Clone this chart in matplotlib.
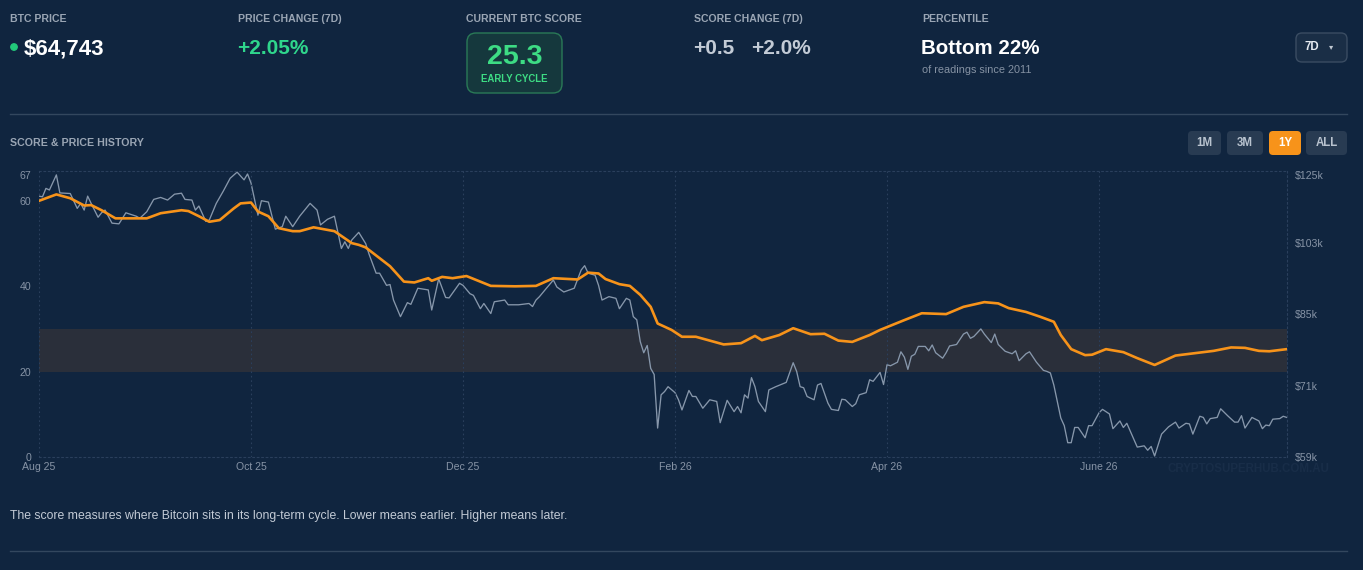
import matplotlib
matplotlib.use('Agg')
import matplotlib.pyplot as plt
from matplotlib.patches import FancyBboxPatch, Circle, Rectangle
from matplotlib.lines import Line2D
from matplotlib import transforms

plt.rcParams['font.family'] = ['Liberation Sans', 'DejaVu Sans']

# ---------------- data ----------------
x_tick_days = [0, 61, 122, 183, 244, 305]
x_tick_labels = ['Aug 25', 'Oct 25', 'Dec 25', 'Feb 26', 'Apr 26', 'June 26']
last_day = 359

score_ticks = [0, 20, 40, 60, 67]
score_tick_labels = ['0', '20', '40', '60', '67']
score_band = (20, 30)

price_ticks_k = [59.0, 71.2, 85.9, 103.6, 125.0]
price_tick_labels = ['$59k', '$71k', '$85k', '$103k', '$125k']

score_day = [0, 5, 9, 13, 15, 18, 22, 31, 35, 41,
             43, 46, 49, 52, 56, 58, 61, 63, 66, 69,
             73, 75, 79, 85, 90, 92, 94, 101, 105, 108,
             112, 113, 116, 119, 123, 130, 137, 143, 148, 155,
             158, 161, 163, 167, 170, 173, 176, 178, 182, 185,
             189, 193, 197, 202, 206, 208, 213, 217, 222, 226,
             230, 234, 239, 242, 249, 254, 261, 266, 272, 276,
             279, 284, 288, 292, 294, 297, 301, 303, 307, 312,
             316, 321, 327, 332, 338, 343, 347, 351, 354, 359]
score_val = [60.0, 61.5, 60.6, 58.9, 59.0, 57.8, 55.9, 55.9, 57.1, 57.8,
             57.6, 56.4, 55.1, 55.5, 58.2, 59.4, 59.6, 57.5, 56.4, 53.6,
             52.9, 52.9, 53.8, 52.9, 50.1, 49.7, 49.1, 44.7, 41.1, 40.9,
             41.9, 41.3, 42.2, 41.9, 42.4, 40.1, 40.0, 40.1, 41.9, 41.6,
             43.2, 43.0, 41.7, 40.5, 40.1, 38.0, 35.2, 31.3, 29.8, 28.2,
             28.2, 27.3, 26.4, 26.7, 28.4, 27.4, 28.6, 30.2, 28.8, 28.9,
             27.3, 27.0, 28.6, 29.8, 32.1, 33.7, 33.5, 35.2, 36.3, 36.0,
             34.9, 34.0, 32.9, 31.7, 28.6, 25.3, 23.9, 24.0, 25.3, 24.6,
             23.2, 21.6, 23.8, 24.3, 24.9, 25.7, 25.6, 24.9, 24.8, 25.3]

price_day = [0, 1, 2, 3, 5, 6, 9, 11, 12, 13,
             14, 15, 17, 18, 19, 21, 23, 25, 28, 29,
             31, 33, 35, 37, 39, 41, 42, 44, 45, 46,
             48, 49, 51, 53, 55, 57, 59, 60, 61, 63,
             64, 66, 68, 70, 71, 73, 75, 78, 80, 81,
             83, 85, 87, 88, 89, 90, 92, 94, 95, 97,
             98, 100, 101, 102, 104, 106, 107, 109, 112, 113,
             115, 117, 118, 121, 122, 124, 125, 127, 128, 130,
             131, 134, 135, 138, 141, 142, 143, 144, 146, 148,
             149, 151, 154, 156, 157, 158, 160, 161, 162, 164,
             166, 167, 169, 170, 171, 172, 173, 174, 175, 176,
             177, 178, 179, 180, 181, 183, 184, 185, 187, 188,
             189, 191, 193, 195, 196, 198, 199, 200, 201, 202,
             203, 204, 205, 206, 207, 209, 210, 212, 215, 217,
             218, 219, 220, 221, 223, 224, 225, 227, 228, 230,
             231, 232, 234, 235, 236, 238, 239, 240, 242, 243,
             244, 245, 247, 248, 249, 250, 251, 252, 253, 255,
             256, 257, 258, 260, 261, 262, 264, 266, 267, 268,
             269, 271, 272, 274, 275, 276, 278, 280, 281, 282,
             284, 285, 287, 289, 290, 291, 292, 294, 295, 296,
             297, 298, 299, 301, 302, 303, 305, 306, 308, 309,
             311, 312, 313, 316, 318, 319, 320, 321, 323, 325,
             327, 328, 330, 331, 332, 334, 335, 336, 337, 339,
             340, 342, 344, 345, 346, 347, 349, 351, 352, 353,
             354, 355, 357, 358, 359]
price_k = [117.0, 116.8, 119.4, 118.9, 123.7, 118.0, 117.8, 113.3, 114.8, 112.8,
           117.0, 114.8, 110.7, 112.0, 112.8, 109.0, 108.8, 112.0, 111.0, 110.4,
           112.3, 116.0, 116.6, 115.8, 117.6, 117.9, 116.0, 115.8, 112.8, 114.0,
           109.5, 109.9, 114.8, 118.5, 122.6, 124.6, 122.1, 124.0, 121.1, 111.3,
           115.6, 115.2, 107.3, 108.0, 111.0, 108.0, 111.0, 114.8, 112.8, 108.5,
           110.1, 111.0, 102.0, 103.8, 102.0, 104.3, 106.4, 103.3, 100.4, 95.6,
           95.6, 92.6, 92.8, 89.1, 85.3, 88.5, 88.1, 91.9, 91.5, 86.8,
           94.2, 89.7, 89.6, 93.1, 92.6, 90.6, 90.2, 87.1, 88.3, 86.0,
           88.7, 89.1, 88.0, 88.0, 88.3, 87.6, 89.1, 89.9, 91.9, 93.9,
           92.2, 91.0, 91.9, 96.4, 97.5, 95.6, 95.1, 92.6, 89.1, 89.9,
           89.5, 87.1, 89.5, 89.1, 85.3, 84.6, 79.9, 77.6, 79.1, 74.5,
           73.3, 63.7, 69.5, 70.1, 71.0, 69.9, 68.6, 66.8, 70.3, 69.2,
           69.2, 67.1, 68.6, 68.3, 64.6, 68.5, 67.5, 66.5, 67.4, 66.3,
           69.5, 68.9, 72.7, 71.0, 68.3, 66.5, 70.4, 71.0, 71.8, 75.6,
           73.9, 71.0, 70.8, 69.2, 68.6, 71.3, 71.6, 68.0, 66.9, 66.7,
           68.7, 68.6, 67.4, 67.9, 69.5, 69.9, 72.3, 72.0, 73.7, 71.4,
           75.2, 75.0, 75.7, 77.8, 76.7, 74.3, 76.9, 77.3, 78.9, 78.9,
           78.0, 79.2, 77.6, 76.5, 77.6, 79.0, 79.3, 81.5, 81.9, 80.6,
           81.0, 82.6, 81.5, 79.7, 81.5, 79.3, 77.9, 77.4, 78.0, 76.0,
           77.4, 77.8, 75.7, 74.1, 73.9, 73.6, 71.3, 65.4, 64.1, 61.3,
           61.3, 63.8, 63.8, 62.1, 64.1, 64.1, 66.3, 66.9, 66.1, 63.6,
           64.9, 63.8, 64.5, 60.6, 60.8, 60.1, 60.7, 59.2, 62.7, 63.9,
           64.7, 63.7, 64.5, 64.4, 62.7, 65.7, 65.5, 64.4, 65.3, 65.5,
           67.0, 65.8, 64.7, 64.7, 65.8, 63.7, 65.5, 64.9, 63.6, 64.2,
           64.1, 65.2, 65.3, 65.7, 65.5]

# ---------------- styling ----------------
W, H = 1363, 570
BG = '#10253f'
LABEL = '#9aa5b4'
ORANGE = '#f7931a'
GRAYLINE = '#8797ab'
GREEN = '#2fd68c'

fig = plt.figure(figsize=(W / 100, H / 100), dpi=100, facecolor=BG)
ident = transforms.IdentityTransform()


def fx(x):
    return x / W


def fy(y):
    return 1 - y / H


def txt(x, y, s, size, color, weight='normal', ha='left', va='center', **kw):
    fig.text(fx(x), fy(y), s, fontsize=size, color=color, fontweight=weight,
             ha=ha, va=va, **kw)


def rbox(x0, y0, x1, y1, fc, ec, r=6, lw=1.0):
    p = FancyBboxPatch((x0, H - y1), x1 - x0, y1 - y0,
                       boxstyle=f"round,pad=0,rounding_size={r}",
                       fc=fc, ec=ec, lw=lw, transform=ident)
    fig.add_artist(p)


def hline(y, x0, x1, color, lw=1.0):
    fig.add_artist(Line2D([fx(x0), fx(x1)], [fy(y), fy(y)], color=color, lw=lw,
                          transform=fig.transFigure))


# ---------------- header ----------------
hdr_y = 19.5
hs = 7.6
txt(10, hdr_y, 'BTC PRICE', hs, LABEL, 'bold')
txt(238, hdr_y, 'PRICE CHANGE (7D)', hs, LABEL, 'bold')
txt(466, hdr_y, 'CURRENT BTC SCORE', hs, LABEL, 'bold')
txt(694, hdr_y, 'SCORE CHANGE (7D)', hs, LABEL, 'bold')
txt(922, hdr_y, 'PERCENTILE', hs, LABEL, 'bold')

val_y = 47
fig.add_artist(Circle((14, H - 47), 3.2, color='#22c97a', transform=ident))
txt(24, val_y, '$64,743', 16, 'white', 'bold', va='center_baseline')
txt(237, val_y, '+2.05%', 15, GREEN, 'bold', va='center_baseline')

rbox(467, 33, 562, 93, '#15383d', '#2a7a57', r=9, lw=1.0)
txt(514.5, 54.5, '25.3', 20.5, '#3ddc84', 'bold', ha='center', va='center_baseline')
txt(514.5, 78, 'EARLY CYCLE', 6.9, '#3ddc84', 'bold', ha='center', va='center_baseline')

txt(693, val_y, '+0.5', 15, '#c3cbd6', 'bold', va='center_baseline')
txt(751, val_y, '+2.0%', 15, '#c3cbd6', 'bold', va='center_baseline')

txt(921, val_y, 'Bottom 22%', 14.8, 'white', 'bold', va='center_baseline')
txt(922, 70, 'of readings since 2011', 7.8, '#8592a3')

rbox(1296, 33, 1347, 62, '#1a2e46', '#3a4c62', r=6, lw=1.0)
txt(1312, 47.5, '7D', 8.3, '#e6ebf1', 'bold', ha='center')
txt(1331, 47.5, '\u25be', 6, '#c0c8d2', ha='center')

hline(114, 10, 1347, '#33475e', 1.0)

txt(10, 143.5, 'SCORE & PRICE HISTORY', 7.7, LABEL, 'bold')

btns = [('1M', 1188, 1221), ('3M', 1227, 1263), ('1Y', 1269, 1301), ('ALL', 1306, 1347)]
for lab, x0, x1 in btns:
    active = lab == '1Y'
    rbox(x0, 131, x1, 155, ORANGE if active else '#283b52', 'none', r=4, lw=0)
    txt((x0 + x1) / 2, 143.5, lab, 8.3, 'white' if active else '#b9c3cf', 'bold', ha='center')

# ---------------- chart ----------------
ax_l, ax_r, ax_t, ax_b = 39, 1286.7, 170.9, 457.3
ax = fig.add_axes([fx(ax_l), fy(ax_b), (ax_r - ax_l) / W, (ax_b - ax_t) / H])
ax2 = ax.twinx()
ax.set_zorder(3)
ax2.set_zorder(2)
ax.patch.set_visible(False)
ax2.patch.set_visible(False)

ax.set_xlim(0, last_day)
ax.set_ylim(0, 67)
ax2.set_yscale('log')
ax2.set_ylim(price_ticks_k[0], price_ticks_k[-1])

band_tr = transforms.blended_transform_factory(ax2.transAxes, ax.transData)
ax2.add_patch(Rectangle((0, score_band[0]), 1, score_band[1] - score_band[0],
                        transform=band_tr, fc='#2a2f3a', ec='none', zorder=0))

ax2.plot(price_day, price_k, color=GRAYLINE, lw=0.95, zorder=2, solid_joinstyle='round')
ax.plot(score_day, score_val, color=ORANGE, lw=1.9, zorder=4, solid_joinstyle='round',
        solid_capstyle='round')

grid_c = '#2a3f5c'
ax.set_xticks(x_tick_days, labels=x_tick_labels)
ax.grid(axis='x', color=grid_c, linestyle=(0, (1.5, 2.5)), lw=0.8)
ax.set_yticks(score_ticks, labels=score_tick_labels)
ax2.set_yticks(price_ticks_k, labels=price_tick_labels)
ax2.yaxis.set_minor_locator(matplotlib.ticker.NullLocator())

for a in (ax, ax2):
    for sp in a.spines.values():
        sp.set_visible(False)
for side in ('top', 'bottom', 'right'):
    ax.spines[side].set_visible(True)
    ax.spines[side].set_color(grid_c)
    ax.spines[side].set_linestyle((0, (1.5, 2.5)))
    ax.spines[side].set_linewidth(0.8)

tick_c = '#8794a6'
ax.tick_params(axis='x', length=0, colors=tick_c, labelsize=7.6, pad=3.5)
ax.tick_params(axis='y', length=0, colors=tick_c, labelsize=7.6, pad=5.5)
ax2.tick_params(axis='y', length=0, colors=tick_c, labelsize=7.6, pad=6)

ax.yaxis.get_major_ticks()[-1].label1.set_va('top')
ax2.yaxis.get_major_ticks()[-1].label2.set_va('top')

txt(1248, 468.5, 'CRYPTOSUPERHUB.COM.AU', 8.3, '#182d48', 'bold', ha='center')

# ---------------- footer ----------------
txt(10, 516, 'The score measures where Bitcoin sits in its long-term cycle. '
             'Lower means earlier. Higher means later.', 8.8, '#c3cbd6')
hline(551, 10, 1347, '#33475e', 1.0)

fig.savefig('out.png', dpi=100, facecolor=BG)
